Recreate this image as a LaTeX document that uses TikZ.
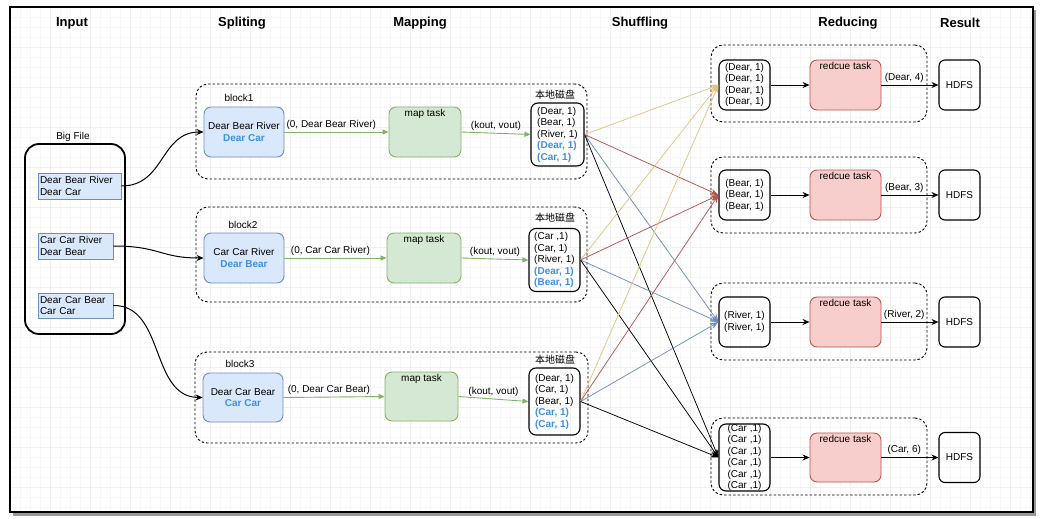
\documentclass[tikz,border=0pt]{standalone}
\usepackage{fontspec}
\setmainfont{Liberation Sans}
\newfontfamily\cjk{Noto Sans CJK SC}
\usetikzlibrary{arrows.meta}
\definecolor{blueF}{HTML}{DAE8FC}
\definecolor{blueB}{HTML}{6C8EBF}
\definecolor{greenF}{HTML}{D5E8D4}
\definecolor{greenB}{HTML}{82B366}
\definecolor{redF}{HTML}{F8CECC}
\definecolor{redB}{HTML}{B85450}
\definecolor{yelE}{HTML}{E3C47E}
\definecolor{txtB}{HTML}{3D8FE6}
\begin{document}
\begin{tikzpicture}[x=1pt,y=-1pt,
  every node/.style={font=\fontsize{10}{11.5}\selectfont, inner sep=0pt},
  hdr/.style={font=\fontsize{13}{15}\selectfont\bfseries},
  inbox/.style={draw=blueB, fill=blueF, line width=0.8pt, align=left, inner xsep=2pt},
  blk/.style={draw, line width=0.9pt, dash pattern=on 2.5pt off 2pt, rounded corners=12pt},
  split/.style={draw=blueB, fill=blueF, line width=0.9pt, rounded corners=7pt, align=center, minimum width=80pt},
  mapt/.style={draw=greenB, fill=greenF, line width=0.9pt, rounded corners=7pt},
  disk/.style={draw, line width=1.1pt, rounded corners=7pt, align=left},
  redt/.style={draw=redB, fill=redF, line width=0.9pt, rounded corners=7pt, minimum width=71pt, minimum height=50pt},
  hdfs/.style={draw, line width=1.1pt, rounded corners=6pt, minimum width=41pt, minimum height=50pt},
  garrow/.style={draw=greenB, line width=0.9pt, -{Triangle[length=6pt,width=5pt]}},
  karrow/.style={draw=black, line width=1pt, -{Stealth[length=7pt,width=6pt]}},
  sh/.style={line width=0.75pt, -{Stealth[length=8pt,width=6pt]}},
  elab/.style={fill=none, inner sep=2pt},
  tlab/.style={anchor=north, inner sep=2.5pt}
]
\useasboundingbox (0,0) rectangle (1049,519);
\fill[white] (0,0) rectangle (1049,519);
% frame shadow
\fill[black!40] (13,10) rectangle (1036,516);
\fill[white] (10,7) rectangle (1033,512);
% faint grid
\foreach \x in {20,30,...,1030} \draw[black!3, line width=0.5pt] (\x,8) -- (\x,511);
\foreach \y in {17,27,...,507} \draw[black!3, line width=0.5pt] (11,\y) -- (1032,\y);
\foreach \x in {50,90,...,1030} \draw[black!6, line width=0.5pt] (\x,8) -- (\x,511);
\foreach \y in {47,87,...,507} \draw[black!6, line width=0.5pt] (11,\y) -- (1032,\y);
\draw[line width=1.4pt] (10,7) rectangle (1033,512);

% headers
\node[hdr] (hIn) at (72,23) {Input};
\node[hdr] (hSp) at (242,23) {Spliting};
\node[hdr] (hMa) at (420,23) {Mapping};
\node[hdr] (hSh) at (640,23) {Shuffling};
\node[hdr] (hRe) at (848,23) {Reducing};
\node[hdr] (hRs) at (960,23) {Result};

% input
\node (bigl) at (73,137) {Big File};
\node[draw, line width=1.8pt, rounded corners=14pt, minimum width=100pt, minimum height=190pt] (big) at (75,239) {};
\node[inbox, text width=79pt, minimum height=26pt] (in1) at (79.5,186) {Dear Bear River\\Dear Car};
\node[inbox, text width=71pt, minimum height=26pt] (in2) at (75.5,246) {Car Car River\\Dear Bear};
\node[inbox, text width=71pt, minimum height=25pt] (in3) at (75.5,305.5) {Dear Car Bear\\Car Car};

% blocks
\node[blk, minimum width=391pt, minimum height=95pt] (b1) at (391.5,131.5) {};
\node[blk, minimum width=391pt, minimum height=95pt] (b2) at (391.5,254.5) {};
\node[blk, minimum width=393pt, minimum height=91pt] (b3) at (391.5,397.5) {};
\node (b1l) at (239,98) {block1};
\node (b2l) at (243,225) {block2};
\node (b3l) at (240,364) {block3};

% splits
\node[split, minimum height=50pt] (s1) at (244,132) {Dear Bear River\\{\color{txtB}\bfseries Dear Car}};
\node[split, minimum height=50pt] (s2) at (244,258) {Car Car River\\{\color{txtB}\bfseries Dear Bear}};
\node[split, minimum height=49pt] (s3) at (243,397.5) {Dear Car Bear\\{\color{txtB}\bfseries Car Car}};

% map tasks
\node[mapt, minimum width=72pt, minimum height=50pt] (m1) at (425,132) {};
\node[mapt, minimum width=74pt, minimum height=50pt] (m2) at (424,258) {};
\node[mapt, minimum width=73pt, minimum height=49pt] (m3) at (421.5,396.5) {};
\node[tlab] (m1l) at (m1.north) {map task};
\node[tlab] (m2l) at (m2.north) {map task};
\node[tlab] (m3l) at (m3.north) {map task};

% disks
\node[disk, minimum width=53pt, minimum height=63pt] (d1) at (557.5,134.5) {(Dear, 1)\\(Bear, 1)\\(River, 1)\\{\color{txtB}\bfseries (Dear, 1)}\\{\color{txtB}\bfseries (Car, 1)}};
\node[disk, minimum width=51pt, minimum height=63pt] (d2) at (554.5,260) {(Car ,1)\\(Car, 1)\\(River, 1)\\{\color{txtB}\bfseries (Dear, 1)}\\{\color{txtB}\bfseries (Bear, 1)}};
\node[disk, minimum width=51pt, minimum height=67pt] (d3) at (554.5,401.5) {(Dear, 1)\\(Car, 1)\\(Bear, 1)\\{\color{txtB}\bfseries (Car, 1)}\\{\color{txtB}\bfseries (Car, 1)}};
\node[font=\cjk\fontsize{10}{12}\selectfont] (d1l) at (555,95) {本地磁盘};
\node[font=\cjk\fontsize{10}{12}\selectfont] (d2l) at (555,218) {本地磁盘};
\node[font=\cjk\fontsize{10}{12}\selectfont] (d3l) at (555,360) {本地磁盘};

% input curves
\draw[karrow] (in1.east) .. controls (165,186) and (160,132) .. (s1.west);
\draw[karrow] (in2.east) .. controls (160,246) and (160,258) .. (s2.west);
\draw[karrow] (in3.east) .. controls (165,305) and (150,397) .. (s3.west);

% green arrows
\draw[garrow] (s1.east) -- node[elab, above, pos=.45] {(0, Dear Bear River)} (m1.west);
\draw[garrow] (m1.east) -- node[elab, above] {(kout, vout)} (d1.west);
\draw[garrow] (s2.east) -- node[elab, above, pos=.45] {(0, Car Car River)} (m2.west);
\draw[garrow] (m2.east) -- node[elab, above] {(kout, vout)} (d2.west);
\draw[garrow] (s3.east) -- node[elab, above, pos=.45] {(0, Dear Car Bear)} (m3.west);
\draw[garrow] (m3.east) -- node[elab, above] {(kout, vout)} (d3.west);

% reduce side
\node[blk, minimum width=216pt, minimum height=77pt] (c1) at (819,83.5) {};
\node[blk, minimum width=216pt, minimum height=76pt] (c2) at (819,195) {};
\node[blk, minimum width=216pt, minimum height=77pt] (c3) at (819,321.5) {};
\node[blk, minimum width=216pt, minimum height=77pt] (c4) at (819,456.5) {};

\node[disk, minimum width=51pt, minimum height=50pt] (r1) at (744.5,85) {(Dear, 1)\\(Dear, 1)\\(Dear, 1)\\(Dear, 1)};
\node[disk, minimum width=51pt, minimum height=50pt] (r2) at (744.5,195) {(Bear, 1)\\(Bear, 1)\\(Bear, 1)};
\node[disk, minimum width=51pt, minimum height=50pt] (r3) at (744.5,322) {(River, 1)\\(River, 1)};
\node[disk, minimum width=51pt, minimum height=67pt] (r4) at (744.5,457.5) {(Car ,1)\\(Car ,1)\\(Car ,1)\\(Car ,1)\\(Car ,1)\\(Car ,1)};

\node[redt] (t1) at (845.5,85) {};
\node[redt] (t2) at (845.5,195) {};
\node[redt] (t3) at (845.5,322) {};
\node[redt, minimum height=49pt] (t4) at (845.5,457.5) {};
\node[tlab] (t1l) at (t1.north) {redcue task};
\node[tlab] (t2l) at (t2.north) {redcue task};
\node[tlab] (t3l) at (t3.north) {redcue task};
\node[tlab] (t4l) at (t4.north) {redcue task};

\node[hdfs] (h1) at (959.5,85) {HDFS};
\node[hdfs] (h2) at (959.5,195) {HDFS};
\node[hdfs] (h3) at (959.5,322) {HDFS};
\node[hdfs] (h4) at (959.5,457.5) {HDFS};

\foreach \i/\lab in {1/{(Dear, 4)},2/{(Bear, 3)},3/{(River, 2)},4/{(Car, 6)}}{
  \draw[karrow] (r\i.east) -- (t\i.west);
  \draw[karrow] (t\i.east) -- node[elab, above, pos=.4] {\lab} (h\i.west);
}

% shuffle
\foreach \d in {1,2,3}{
  \draw[sh, color=yelE] (d\d.east) -- (r1.west);
  \draw[sh, color=redB] (d\d.east) -- (r2.west);
  \draw[sh, color=blueB] (d\d.east) -- (r3.west);
  \draw[sh, color=black] (d\d.east) -- (r4.west);
}
\end{tikzpicture}
\end{document}
